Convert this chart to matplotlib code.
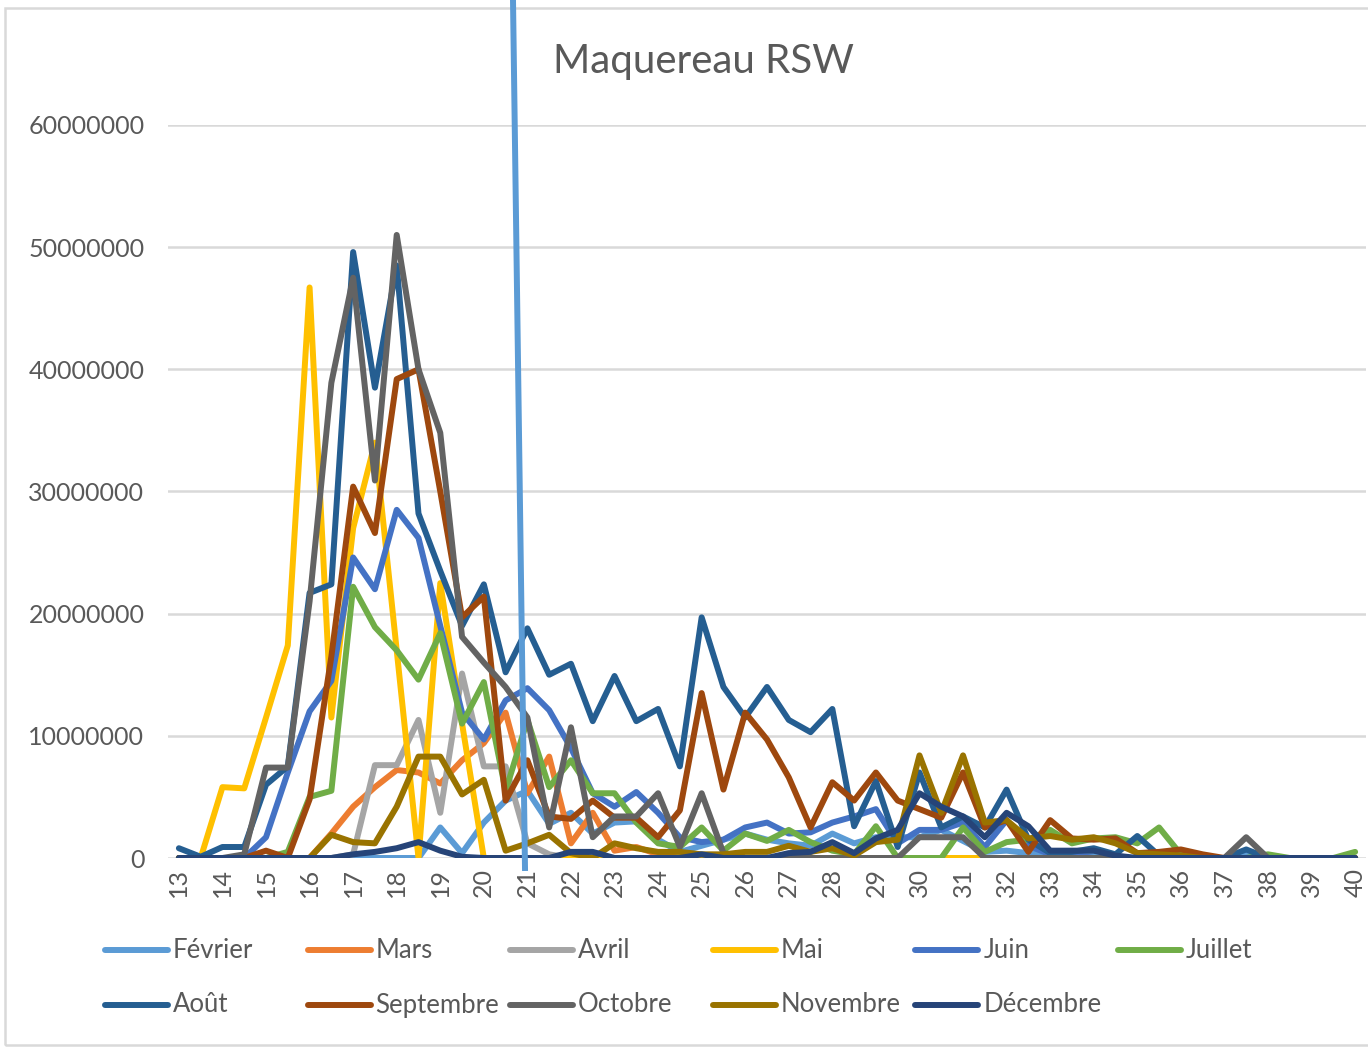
import numpy as np
import matplotlib
matplotlib.use('Agg')
from matplotlib import pyplot as plt
from matplotlib.lines import Line2D
from matplotlib.patches import Rectangle

plt.rcParams['font.family'] = ['Lato', 'DejaVu Sans']

# semaines 13 -> 40 par demi-semaine
semaines = np.arange(13, 40.5, 0.5)
ticks = list(range(13, 41))

# valeurs en millions
fevrier = [0, 0, 0, 0, 0, 0, 0, 0, 0, 0, 0, 0, 2.5, 0.4, 2.9, 4.7,
           5.5, 2.8, 3.7, 2.0, 2.9, 3.0, 1.5, 0.5, 1.0, 1.5,
           2.0, 1.5, 1.2, 1.0, 2.0, 1.2, 1.7, 1.7, 1.7, 2.3,
           1.4, 0.5, 0.6, 0.4, 0.3, 0.2, 0.2, 0, 0, 0,
           0, 0, 0, 0.3, 0, 0, 0, 0, 0]
mars = [0, 0, 0, 0, 0, 0, 0, 2.0, 4.2, 5.8, 7.2, 7.0, 6.1, 8.0, 9.4, 11.9,
        5.3, 8.3, 1.2, 3.7, 0.6, 0.9, 0.3, 0, 0, 0,
        0, 0, 0, 0, 0, 0, 0, 0, 0, 0,
        0, 0, 0, 0, 0, 0, 0, 0, 0, 0,
        0, 0, 0, 0, 0, 0, 0, 0, 0]
avril = [0, 0, 0, 0, 0, 0, 0, 0, 0.3, 7.6, 7.6, 11.3, 3.7, 15.1, 7.5, 7.5,
         1.2, 0.3, 0, 0, 0, 0, 0, 0, 0, 0,
         0, 0, 0, 0, 0, 0, 0, 0, 0, 0,
         0, 0, 0, 0, 0, 0, 0, 0, 0, 0,
         0, 0, 0, 0, 0, 0, 0, 0, 0]
mai = [0, 0, 5.8, 5.7, 11.5, 17.4, 46.7, 11.5, 27.0, 34.0, 17.0, 0, 22.5, 11.0, 0, 0,
       0, 0, 0, 0, 0, 0, 0, 0, 0, 0,
       0, 0, 0, 0, 0, 0, 0, 0, 0, 0,
       0, 0, 0, 0, 0, 0, 0, 0, 0, 0,
       0, 0, 0, 0, 0, 0, 0, 0, 0]
juin = [0, 0, 0, 0, 1.7, 7.0, 12.0, 14.5, 24.6, 22.0, 28.5, 26.2, 19.0, 11.9, 9.7, 12.9,
        13.9, 12.1, 9.0, 5.3, 4.2, 5.4, 3.7, 1.7, 1.3, 1.5,
        2.5, 2.9, 2.0, 2.1, 2.9, 3.4, 4.0, 1.2, 2.3, 2.3,
        2.9, 0.9, 3.1, 1.0, 0.3, 0.3, 0, 0, 0, 0,
        0, 0, 0, 0, 0, 0, 0, 0, 0]
juillet = [0, 0, 0, 0, 0, 0.5, 5.0, 5.5, 22.2, 18.9, 17.0, 14.6, 18.4, 11.0, 14.4, 5.5,
           11.3, 5.8, 8.0, 5.3, 5.3, 2.9, 1.2, 0.9, 2.5, 0.6,
           2.0, 1.4, 2.3, 1.3, 0.6, 0.3, 2.6, 0, 0, 0,
           2.5, 0.5, 1.3, 1.5, 2.3, 1.2, 1.6, 1.7, 1.2, 2.5,
           0.3, 0, 0, 0, 0.3, 0, 0, 0, 0.5]
aout = [0.8, 0.1, 0.9, 0.9, 6.0, 7.5, 21.7, 22.4, 49.6, 38.5, 48.5, 28.2, 23.5, 19.0, 22.4, 15.2,
        18.8, 15.0, 15.9, 11.2, 14.9, 11.2, 12.2, 7.5, 19.7, 14.0,
        11.5, 14.0, 11.3, 10.3, 12.2, 2.6, 6.3, 0.9, 7.0, 2.5,
        3.4, 2.5, 5.6, 1.5, 0.4, 0.5, 0.8, 0.3, 1.8, 0.2,
        0, 0, 0, 0.7, 0, 0, 0, 0, 0]
septembre = [0, 0, 0, 0, 0.6, 0, 4.8, 16.5, 30.4, 26.6, 39.2, 40.0, 30.0, 19.7, 21.4, 4.7,
             8.0, 3.4, 3.2, 4.7, 3.3, 3.3, 1.7, 3.9, 13.5, 5.6,
             11.9, 9.7, 6.6, 2.5, 6.2, 4.7, 7.0, 4.7, 4.0, 3.3,
             7.0, 2.5, 3.1, 0.5, 3.1, 1.6, 1.5, 1.6, 0.4, 0.5,
             0.7, 0.3, 0, 0, 0, 0, 0, 0, 0]
octobre = [0, 0, 0, 0.3, 7.4, 7.4, 21.0, 38.9, 47.5, 30.9, 51.0, 40.0, 34.8, 18.1, 16.0, 14.0,
           11.5, 2.5, 10.7, 1.7, 3.4, 3.4, 5.3, 0.9, 5.3, 0.4,
           0, 0, 0, 0, 0, 0, 0, 0, 1.7, 1.7,
           1.7, 0, 0, 0, 0, 0, 0, 0, 0, 0,
           0, 0, 0, 1.7, 0, 0, 0, 0, 0]
novembre = [0, 0, 0, 0, 0, 0, 0, 1.9, 1.3, 1.2, 4.2, 8.3, 8.3, 5.2, 6.4, 0.6,
            1.2, 1.9, 0.4, 0, 1.2, 0.8, 0.5, 0.5, 0.3, 0.3,
            0.5, 0.5, 1.0, 0.5, 0.8, 0.2, 1.3, 1.5, 8.4, 3.7,
            8.4, 2.9, 3.1, 1.6, 1.8, 1.5, 1.7, 1.2, 0.4, 0.3,
            0.2, 0, 0, 0, 0, 0, 0, 0, 0]
decembre = [0, 0, 0, 0, 0, 0, 0, 0, 0.3, 0.5, 0.8, 1.3, 0.6, 0.1, 0, 0,
            0, 0, 0.5, 0.5, 0, 0, 0, 0, 0.3, 0,
            0, 0, 0.4, 0.5, 1.3, 0.4, 1.6, 2.3, 5.3, 4.2,
            3.4, 1.7, 3.7, 2.6, 0.6, 0.6, 0.6, 0.2, 0, 0,
            0, 0, 0, 0, 0, 0, 0, 0, 0]

mois = ['Février', 'Mars', 'Avril', 'Mai', 'Juin', 'Juillet',
        'Août', 'Septembre', 'Octobre', 'Novembre', 'Décembre']
series = [fevrier, mars, avril, mai, juin, juillet,
          aout, septembre, octobre, novembre, decembre]
couleurs = ['#5B9BD5', '#ED7D31', '#A5A5A5', '#FFC000', '#4472C4', '#70AD47',
            '#255E91', '#9E480E', '#636363', '#997300', '#264478']

W, H = 1368, 1048
fig = plt.figure(figsize=(W / 100, H / 100), dpi=100)
ax = fig.add_axes([168 / W, 1 - 858 / H, (1366 - 168) / W, (858 - 125) / H])

for nom, vals, c in zip(mois, series, couleurs):
    ax.plot(semaines, np.array(vals) * 1e6, color=c, lw=4.3,
            solid_joinstyle='round', solid_capstyle='round', label=nom)

ax.set_xlim(12.75, 40.25)
ax.set_ylim(0, 60e6)
ax.set_yticks(np.arange(0, 60e6 + 1, 10e6))
ax.set_yticklabels([f'{int(v)}' for v in np.arange(0, 60e6 + 1, 10e6)])
ax.set_xticks(ticks)
ax.set_xticklabels([str(t) for t in ticks], rotation=90)
ax.grid(axis='y', color='#D9D9D9', lw=1.8)
ax.set_axisbelow(True)
for s in ax.spines.values():
    s.set_visible(False)
ax.tick_params(axis='both', length=0, colors='#595959', labelsize=18)
ax.tick_params(axis='y', pad=17)
ax.tick_params(axis='x', pad=7)

fig.text(703 / W, 1 - 61 / H, 'Maquereau RSW', ha='center', va='center',
         fontsize=29, color='#595959')

# légende sur deux rangées
for k, (nom, c) in enumerate(zip(mois, couleurs)):
    row, col = divmod(k, 6)
    x0 = 105 + col * 202.6
    y0 = 1 - (950 + row * 55) / H
    fig.add_artist(Line2D([x0 / W, (x0 + 63) / W], [y0, y0], color=c, lw=4.3,
                          solid_capstyle='round', transform=fig.transFigure))
    fig.text((x0 + 68) / W, y0, nom, ha='left', va='center',
             fontsize=18.5, color='#595959')

# cadre du graphique
fig.add_artist(Rectangle((5 / W, 3 / H), (W + 20) / W, 1 - 11 / H,
                         transform=fig.transFigure, fill=False,
                         edgecolor='#D9D9D9', lw=1.8))

# trait vertical semaine 21
fig.add_artist(Line2D([513 / W, 525 / W], [1.0, 1 - 868 / H], color='#5B9BD5',
                      lw=4.3, transform=fig.transFigure))

fig.savefig('out.png', dpi=100, facecolor='white')
